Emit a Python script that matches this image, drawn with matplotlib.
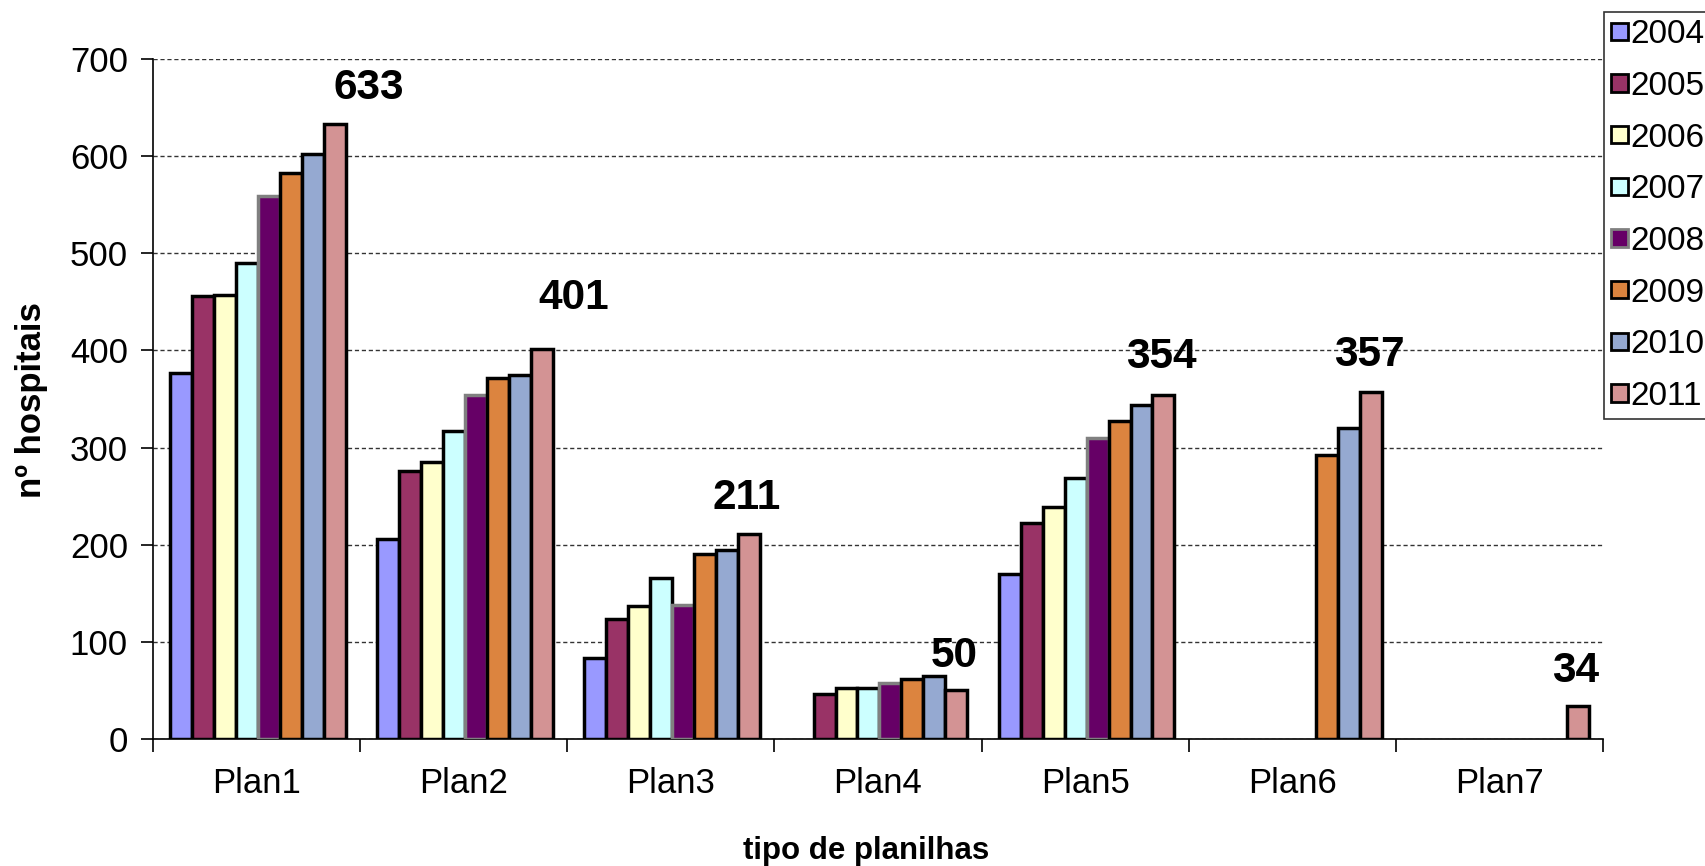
import numpy as np
import matplotlib
matplotlib.use("Agg")
import matplotlib.pyplot as plt

# ========= Data =========
plans = ["Plan1", "Plan2", "Plan3", "Plan4", "Plan5", "Plan6", "Plan7"]
years = ["2004", "2005", "2006", "2007", "2008", "2009", "2010", "2011"]
nan = np.nan

v2004 = [377, 206, 83, nan, 170, nan, nan]
v2005 = [456, 276, 124, 46, 222, nan, nan]
v2006 = [457, 285, 137, 52, 239, nan, nan]
v2007 = [490, 317, 166, 52, 269, nan, nan]
v2008 = [559, 354, 138, 58, 310, nan, nan]
v2009 = [583, 372, 190, 62, 327, 292, nan]
v2010 = [602, 375, 195, 65, 344, 320, nan]
v2011 = [633, 401, 211, 50, 354, 357, 34]

series = [v2004, v2005, v2006, v2007, v2008, v2009, v2010, v2011]
colors = ["#9999FF", "#993366", "#FFFFCC", "#CCFFFF", "#660066", "#DC843F", "#95A9D1", "#D39394"]
edges = ["black", "black", "black", "black", "#808080", "black", "black", "black"]

# manual nudges of the total labels (pixels), as in the original sheet
label_dx = [34, 32, -3, -2, -2, -1, -2]
label_dy = [36, 51, 36, 34, 38, 37, 35]

plt.rcParams['font.family'] = ['Liberation Sans', 'DejaVu Sans']

# ========= Plot =========
fig = plt.figure(figsize=(17.06, 8.66), dpi=100)
ax = fig.add_axes([153 / 1706, 1 - 739 / 866, 1450 / 1706, 680 / 866])

x = np.arange(len(plans))
w = 0.106
for j, (vals, c, ec) in enumerate(zip(series, colors, edges)):
    ax.bar(x + (j - 3.5) * w + 0.007, vals, width=w, color=c, edgecolor=ec,
           linewidth=2.5, label=years[j], zorder=3)

# totals (2011) above each group
for i, v in enumerate(v2011):
    ax.annotate(str(v), xy=(x[i] + 3.5 * w + 0.007, v), xytext=(label_dx[i], label_dy[i]),
                textcoords="offset pixels", ha="center", va="center",
                fontsize=30.5, fontweight="bold", zorder=4)

ax.set_xlim(-0.5, len(plans) - 0.5)
ax.set_ylim(0, 700)
ax.set_yticks(range(0, 701, 100))
ax.set_xticks(x)
ax.set_xticklabels(plans)
ax.set_xticks(np.arange(-0.5, len(plans)), minor=True)
ax.tick_params(axis="x", which="major", length=0, labelsize=25, pad=20)
ax.tick_params(axis="x", which="minor", length=9, width=1.2, direction="out")
ax.tick_params(axis="y", length=9, width=1.2, direction="out", labelsize=25, pad=9)

ax.grid(axis="y", linestyle=(0, (3, 2)), color="#333333", linewidth=1.0, zorder=0)
for s in ["top", "right"]:
    ax.spines[s].set_visible(False)
ax.spines["left"].set_linewidth(1.2)
ax.spines["bottom"].set_linewidth(1.2)

ax.set_ylabel("nº hospitais", fontsize=25, fontweight="bold", va="center")
ax.yaxis.set_label_coords(-0.084, 0.4985)
ax.set_xlabel("tipo de planilhas", fontsize=22.5, fontweight="bold", va="center")
ax.xaxis.set_label_coords(0.492, -0.165)

leg = ax.legend(loc="upper left", bbox_to_anchor=(1604 / 1706, 1 - 12 / 866),
                bbox_transform=fig.transFigure, borderaxespad=0, fontsize=24,
                frameon=True, fancybox=False, handlelength=0.5, handleheight=0.42,
                handletextpad=0.08, labelspacing=0.62, borderpad=0.22)
leg.get_frame().set_edgecolor("black")
leg.get_frame().set_linewidth(1.2)
for h in leg.legend_handles:
    h.set_linewidth(2.0)

plt.savefig("out.png", dpi=100)
